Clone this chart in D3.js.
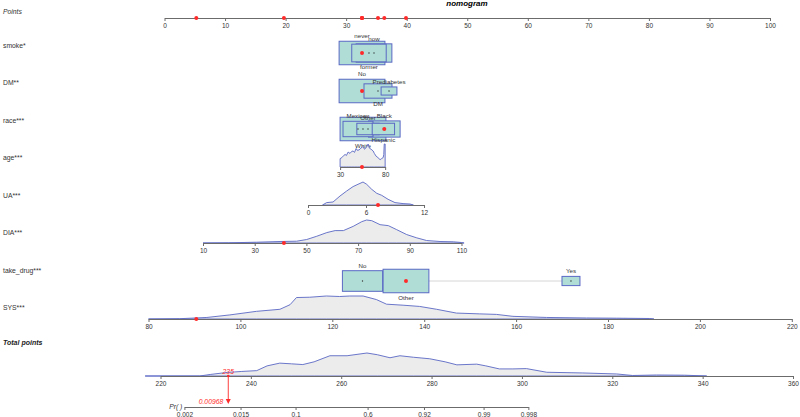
<!DOCTYPE html>
<html>
<head>
<meta charset="utf-8">
<script src="https://cdn.jsdelivr.net/npm/d3@7"></script>
<style>
body{margin:0;background:#fff}
text{font-family:"Liberation Sans",Arial,sans-serif}
</style>
</head>
<body>
<svg width="800" height="417"></svg>
<script>
// ---- data ----
var pointTicks = d3.range(0, 101, 10);
var rowNames = ["smoke*", "DM**", "race***", "age***", "UA***", "DIA***", "take_drug***", "SYS***"];

// categorical variables: levels (sorted by points), points, share of sample
var smokeLevels = ["never", "former", "now"];
var smokePoints = [32.62, 33.77, 34.60];
var smokeShare = [0.46, 0.26, 0.28];

var dmLevels = ["No", "DM", "Prediabetes"];
var dmPoints = [32.62, 35.26, 37.08];
var dmShare = [0.67, 0.25, 0.08];

var raceLevels = ["Mexican", "White", "Other", "Hispanic", "Black"];
var racePoints = [31.96, 32.78, 33.61, 36.15, 36.30];
var raceShare = [0.18, 0.42, 0.10, 0.10, 0.20];

var drugLevels = ["No", "Other", "Yes"];
var drugPoints = [32.70, 39.88, 67.13];
var drugShare = [0.40, 0.52, 0.08];

// continuous variables: ticks and the points at first / last tick
var ageTicks = [30, 80], agePointsAt = [29.0, 36.44];
var uaTicks = [0, 6, 12], uaPointsAt = [23.70, 42.86];
var diaTicks = [10, 30, 50, 70, 90, 110], diaPointsAt = [6.36, 49.05];
var sysTicks = [80, 100, 120, 140, 160, 180, 200, 220], sysPointsAt = [-2.64, 103.6];

// densities [value, relative density]
var ageDensity = [[30,0],[30,8],[32,9],[34,11],[35.6,12],[37,11],[38.9,14.3],[41,13],[43,15],[44.4,15.3],[46,14],
  [47.8,17.7],[49,16],[51.1,16.3],[53,18],[55.6,19.7],[57,17],[58.9,18.5],[60,20],[61.1,22],[62.5,18],[64.4,17],
  [66.7,15.3],[68,13],[70,10.3],[72,9],[74.4,7],[76,8],[77.8,9],[78.5,12],[79,22],[80,22],[80,0]];
var uaDensity = [[1.5,0],[1.93,2.4],[2.59,3],[3.31,9],[4.0,14],[4.66,18.4],[5.17,20.7],[5.69,23],[6.07,20.7],[6.59,15.7],
  [7.11,11.7],[7.62,9.7],[8.28,5.7],[9.0,2.4],[9.83,1.4],[10.55,1],[10.9,0]];
var diaDensity = [[10,0],[20,0.2],[30.8,0.8],[39.8,1.5],[46.2,1.8],[50.1,3.5],[54.0,6.8],[57.9,10.5],[61.1,12.5],[64.3,12.5],
  [68.1,16.8],[71.4,21.5],[73.3,23.2],[75.3,22.5],[78.5,18.5],[81.7,17.5],[84.9,13.5],[88.8,8.5],[92.7,5.2],[96.5,2.5],
  [101.7,1.5],[106.8,1.2],[110,0.5],[111,0]];
var sysDensity = [[80,0],[86.8,0.3],[92.7,1.5],[97.7,4],[103.5,7.5],[108.6,9.5],[110.8,14],[112.2,21],[115.1,21.3],[118.7,22.5],
  [121.6,22],[123.8,22.5],[126.7,22.5],[129.6,19],[131.8,14.5],[135.4,13.5],[139,12.3],[142.7,9.5],[147,5.8],[152.1,5],
  [155.7,4.5],[159.3,2.6],[166.6,1.5],[175.3,1],[181.8,0.8],[189,0.5],[190,0]];
var totalDensity = [[216.6,0],[228.7,0],[231,1.5],[234.7,3.5],[238,4.5],[241.3,5.3],[243.6,10],[246.4,12.7],[249,12],[251.5,11.3],
  [254,14],[257.5,20],[261.3,20],[265.7,22.7],[268,21],[270.8,18],[273,20],[276,18.5],[279.6,17],[283,14],[285.6,11],
  [290,11.7],[292,10],[295,7],[298,7],[301,7.3],[305.5,3.7],[313.5,3],[321,2],[324.5,0.5],[329.8,1],[336,0.8],[340.9,0]];

// observed case
var obsSmoke = "never", obsDM = "No", obsRace = "Black", obsDrug = "Other";
var obsAge = 54.3, obsUA = 7.24, obsDIA = 41.3, obsSYS = 90.4;

var totalTicks = d3.range(220, 361, 20);
var totalObserved = 235;
var probTicks = [0.002, 0.015, 0.1, 0.6, 0.92, 0.99, 0.998];
var probObserved = 0.00968;
var lpIntercept = -42.98, lpSlope = 0.1632;

// ---- drawing ----
var svg = d3.select("svg");
var RED = "#ff2a2a", BLUE = "#5a68c4", FILL = "#b0ded7";

var x = d3.scaleLinear().domain([0, 100]).range([164.5, 770]);
var rowY = d3.scaleLinear().domain([0, 7]).range([53, 319]);
var labelY = d3.scaleLinear().domain([0, 7]).range([48, 310]);

function styleAxis(g) {
  g.select(".domain").attr("stroke", "#6b6b6b");
  g.selectAll(".tick line").attr("stroke", "#6b6b6b");
  g.selectAll(".tick text").attr("fill", "#333").style("font-size", "6.5px")
    .style("font-family", "'Liberation Sans',Arial,sans-serif");
}

function redDot(cx, cy) {
  svg.append("circle").attr("cx", cx).attr("cy", cy).attr("r", 2).attr("fill", RED);
}

// title and points axis
svg.append("text").attr("x", 467).attr("y", 6).attr("text-anchor", "middle")
  .style("font-size", "8px").style("font-weight", "bold").style("font-style", "italic").text("nomogram");
svg.append("text").attr("x", 3).attr("y", 14).style("font-size", "6.8px").style("font-style", "italic").attr("fill", "#333").text("Points");
svg.append("g").attr("transform", "translate(0,18)")
  .call(d3.axisBottom(x).tickValues(pointTicks).tickSize(3).tickSizeOuter(0).tickPadding(2)).call(styleAxis);

// row labels
svg.selectAll(".rowlab").data(rowNames).enter().append("text")
  .attr("x", 3).attr("y", function(d, i) { return labelY(i); })
  .attr("fill", "#333").style("font-size", "6.8px").text(function(d) { return d; });

var observedPoints = [];

function drawCategorical(row, levels, pts, share, observed) {
  var cy = rowY(row), maxShare = d3.max(share), boxMax = 23.5;
  svg.append("line").attr("x1", x(d3.min(pts))).attr("x2", x(d3.max(pts)))
    .attr("y1", cy).attr("y2", cy).attr("stroke", "#d6d6d6");
  var items = levels.map(function(l, i) {
    var h = boxMax * Math.sqrt(share[i] / maxShare);
    return { level: l, pts: pts[i], h: h, w: h * 1.95, above: i % 2 === 0 };
  });
  var sorted = items.slice().sort(function(a, b) { return b.h - a.h; });
  var g = svg.append("g");
  g.selectAll("rect").data(sorted).enter().append("rect")
    .attr("x", function(d) { return x(d.pts) - d.w / 2; })
    .attr("y", function(d) { return cy - d.h / 2; })
    .attr("width", function(d) { return d.w; })
    .attr("height", function(d) { return d.h; })
    .attr("fill", FILL).attr("stroke", BLUE).attr("stroke-width", 1);
  g.selectAll("circle").data(items).enter().append("circle")
    .attr("cx", function(d) { return x(d.pts); }).attr("cy", cy).attr("r", 0.7).attr("fill", "#333");
  g.selectAll("text").data(items).enter().append("text")
    .attr("x", function(d) { return x(d.pts); })
    .attr("y", function(d) { return d.above ? cy - d.h / 2 - 3 : cy + d.h / 2 + 7.5; })
    .attr("text-anchor", "middle").attr("fill", "#333").style("font-size", "6.2px")
    .text(function(d) { return d.level; });
  var obs = items.find(function(d) { return d.level === observed; });
  redDot(x(obs.pts), cy);
  observedPoints.push(obs.pts);
}

function drawContinuous(row, ticks, ptsAt, density, observed) {
  var cy = rowY(row);
  var sx = d3.scaleLinear().domain([ticks[0], ticks[ticks.length - 1]]).range([x(ptsAt[0]), x(ptsAt[1])]);
  var hy = d3.scaleLinear().domain([0, d3.max(density, function(d) { return d[1]; })]).range([cy, cy - 23]);
  svg.append("path").datum(density)
    .attr("d", d3.area().x(function(d) { return sx(d[0]); }).y0(cy).y1(function(d) { return hy(d[1]); }))
    .attr("fill", "#ececec").attr("stroke", BLUE).attr("stroke-width", 0.9);
  svg.append("g").attr("transform", "translate(0," + cy + ")")
    .call(d3.axisBottom(sx).tickValues(ticks).tickSize(3).tickSizeOuter(0).tickPadding(2)).call(styleAxis);
  redDot(sx(observed), cy);
  observedPoints.push(x.invert(sx(observed)));
}

drawCategorical(0, smokeLevels, smokePoints, smokeShare, obsSmoke);
drawCategorical(1, dmLevels, dmPoints, dmShare, obsDM);
drawCategorical(2, raceLevels, racePoints, raceShare, obsRace);
drawContinuous(3, ageTicks, agePointsAt, ageDensity, obsAge);
drawContinuous(4, uaTicks, uaPointsAt, uaDensity, obsUA);
drawContinuous(5, diaTicks, diaPointsAt, diaDensity, obsDIA);
drawCategorical(6, drugLevels, drugPoints, drugShare, obsDrug);
drawContinuous(7, sysTicks, sysPointsAt, sysDensity, obsSYS);

// observed points on the Points axis
observedPoints.forEach(function(p) { redDot(x(p), 18); });

// total points
var totalY = 376, probY = 407;
var xt = d3.scaleLinear().domain([220, 360]).range([160.5, 793]);
svg.append("text").attr("x", 3).attr("y", 345).style("font-size", "7px")
  .style("font-weight", "bold").style("font-style", "italic").attr("fill", "#222").text("Total points");
var ht = d3.scaleLinear().domain([0, d3.max(totalDensity, function(d) { return d[1]; })]).range([totalY, totalY - 23]);
svg.append("path").datum(totalDensity)
  .attr("d", d3.area().x(function(d) { return xt(d[0]); }).y0(totalY).y1(function(d) { return ht(d[1]); }))
  .attr("fill", "#ececec").attr("stroke", BLUE).attr("stroke-width", 0.9);
svg.append("g").attr("transform", "translate(0," + totalY + ")")
  .call(d3.axisBottom(xt).tickValues(totalTicks).tickSize(3).tickSizeOuter(0).tickPadding(2)).call(styleAxis);

// probability axis (linear in logit)
function logit(p) { return Math.log(p / (1 - p)); }
function totalFor(lp) { return (lp - lpIntercept) / lpSlope; }
var lpLo = logit(probTicks[0]), lpHi = logit(probTicks[probTicks.length - 1]);
var xp = d3.scaleLinear().domain([lpLo, lpHi]).range([xt(totalFor(lpLo)), xt(totalFor(lpHi))]);
svg.append("g").attr("transform", "translate(0," + probY + ")")
  .call(d3.axisBottom(xp).tickValues(probTicks.map(logit)).tickSize(3).tickSizeOuter(0).tickPadding(2)
    .tickFormat(function(d, i) { return probTicks[i]; })).call(styleAxis);
svg.append("text").attr("x", xp(lpLo) - 2).attr("y", probY + 1.5).attr("text-anchor", "end")
  .style("font-size", "6.8px").style("font-style", "italic").attr("fill", "#333").text("Pr( )");

// observed total -> probability arrow
var ax = xt(totalObserved);
svg.append("circle").attr("cx", ax).attr("cy", totalY).attr("r", 1.3).attr("fill", RED);
svg.append("line").attr("x1", ax).attr("x2", ax).attr("y1", totalY).attr("y2", probY - 7)
  .attr("stroke", RED).attr("stroke-width", 0.9);
svg.append("path").attr("d", "M" + (ax - 2.5) + "," + (probY - 8) + "L" + (ax + 2.5) + "," + (probY - 8) + "L" + ax + "," + (probY - 3) + "Z")
  .attr("fill", RED);
svg.append("text").attr("x", ax).attr("y", totalY - 2.5).attr("text-anchor", "middle")
  .style("font-size", "6.8px").style("font-style", "italic").attr("fill", RED).text(totalObserved);
svg.append("text").attr("x", ax - 5).attr("y", probY - 3.5).attr("text-anchor", "end")
  .style("font-size", "6.8px").style("font-style", "italic").attr("fill", RED).text(probObserved);
</script>
</body>
</html>
